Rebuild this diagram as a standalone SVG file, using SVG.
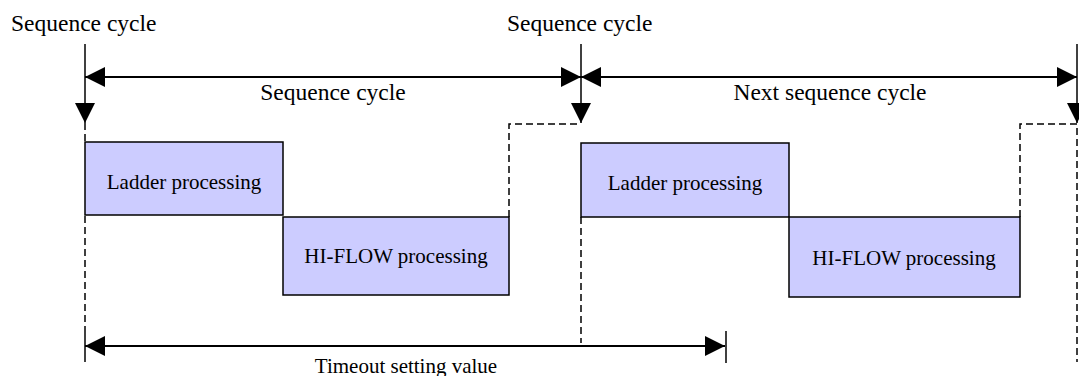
<svg xmlns="http://www.w3.org/2000/svg" width="1079" height="376" viewBox="0 0 1079 376">
<style>
text{font-family:"Liberation Serif","Times New Roman",serif;fill:#000}
.big{font-size:23.5px}
.lbl{font-size:21px;text-anchor:middle}
.box{fill:#ccccff;stroke:#000;stroke-width:1.5}
.sol{stroke:#000;stroke-width:1.5;fill:none}
.dim{stroke:#000;stroke-width:2;fill:none}
.dash{stroke:#000;stroke-width:1.5;fill:none;stroke-dasharray:7 4}
</style>
<defs>
<marker id="ah" markerUnits="userSpaceOnUse" markerWidth="20" markerHeight="20" viewBox="0 0 20 20" refX="20" refY="10" orient="auto-start-reverse">
<path d="M0,0 L20,10 L0,20 z" fill="#000"/>
</marker>
</defs>
<g id="connectors">
<line class="sol" x1="85" y1="44" x2="85" y2="123" marker-end="url(#ah)"/>
<line class="sol" x1="581" y1="44" x2="581" y2="123" marker-end="url(#ah)"/>
<line class="sol" x1="1077" y1="44" x2="1077" y2="123" marker-end="url(#ah)"/>
<line class="dim" x1="85" y1="77" x2="581" y2="77" marker-start="url(#ah)" marker-end="url(#ah)"/>
<line class="dim" x1="581" y1="77" x2="1077" y2="77" marker-start="url(#ah)" marker-end="url(#ah)"/>
<line class="dash" x1="85" y1="123" x2="85" y2="142"/>
<line class="dash" x1="85" y1="216" x2="85" y2="332"/>
<line class="sol" x1="85" y1="332" x2="85" y2="362"/>
<polyline class="dash" points="509,217 509,124 581,124"/>
<line class="dash" x1="581" y1="217" x2="581" y2="343"/>
<polyline class="dash" points="1020,217 1020,124 1077,124 1077,362"/>
<line class="sol" x1="726" y1="331" x2="726" y2="363"/>
<line class="dim" x1="85" y1="346" x2="725" y2="346" marker-start="url(#ah)" marker-end="url(#ah)"/>
</g>
<g id="label-seq-left"><text class="big" x="11" y="31">Sequence cycle</text></g>
<g id="label-seq-mid"><text class="big" x="507" y="31">Sequence cycle</text></g>
<g id="label-cycle"><text class="big" x="333" y="100" text-anchor="middle">Sequence cycle</text></g>
<g id="label-next"><text class="big" x="830" y="100" text-anchor="middle">Next sequence cycle</text></g>
<g id="ladder1"><rect class="box" x="85" y="142" width="198" height="73"/><text class="lbl" x="184" y="189">Ladder processing</text></g>
<g id="hiflow1"><rect class="box" x="283" y="217" width="226" height="78"/><text class="lbl" x="396" y="263">HI-FLOW processing</text></g>
<g id="ladder2"><rect class="box" x="581" y="143" width="208" height="74"/><text class="lbl" x="685" y="190">Ladder processing</text></g>
<g id="hiflow2"><rect class="box" x="789" y="217" width="231" height="80"/><text class="lbl" x="904" y="265">HI-FLOW processing</text></g>
<g id="label-timeout"><text class="lbl" x="406" y="373">Timeout setting value</text></g>
</svg>
